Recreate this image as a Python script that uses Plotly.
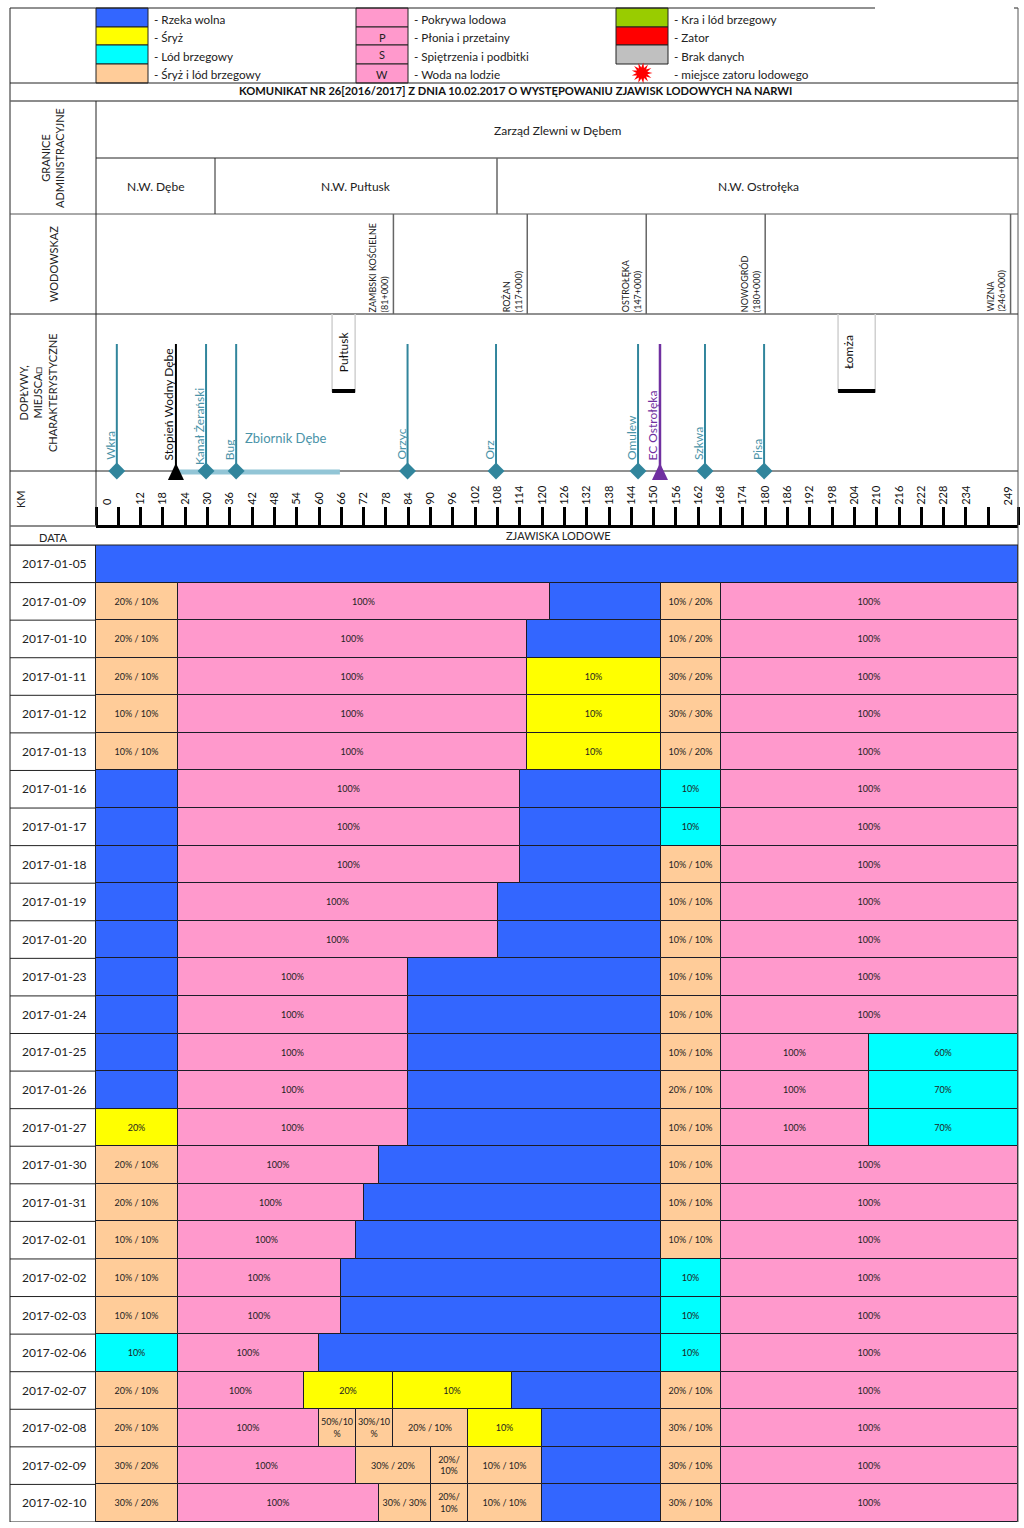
# Zjawiska lodowe na Narwi - komunikat nr 26
import math
import plotly.graph_objects as go

W_PX = 1024
H_PX = 1528
FONT = "Lato"

# rows of the ice table, km of the end of each cell, its kind and its label
dates = ["2017-01-05", "2017-01-09", "2017-01-10", "2017-01-11", "2017-01-12", "2017-01-13",
         "2017-01-16", "2017-01-17", "2017-01-18", "2017-01-19", "2017-01-20", "2017-01-23",
         "2017-01-24", "2017-01-25", "2017-01-26", "2017-01-27", "2017-01-30", "2017-01-31",
         "2017-02-01", "2017-02-02", "2017-02-03", "2017-02-06", "2017-02-07", "2017-02-08",
         "2017-02-09", "2017-02-10"]

seg_ends = [[248],
            [22, 122, 152, 168, 248],
            [22, 116, 152, 168, 248],
            [22, 116, 152, 168, 248],
            [22, 116, 152, 168, 248],
            [22, 116, 152, 168, 248],
            [22, 114, 152, 168, 248],
            [22, 114, 152, 168, 248],
            [22, 114, 152, 168, 248],
            [22, 108, 152, 168, 248],
            [22, 108, 152, 168, 248],
            [22, 84, 152, 168, 248],
            [22, 84, 152, 168, 248],
            [22, 84, 152, 168, 208, 248],
            [22, 84, 152, 168, 208, 248],
            [22, 84, 152, 168, 208, 248],
            [22, 76, 152, 168, 248],
            [22, 72, 152, 168, 248],
            [22, 70, 152, 168, 248],
            [22, 66, 152, 168, 248],
            [22, 66, 152, 168, 248],
            [22, 60, 152, 168, 248],
            [22, 56, 80, 112, 152, 168, 248],
            [22, 60, 70, 80, 100, 120, 152, 168, 248],
            [22, 70, 90, 100, 120, 152, 168, 248],
            [22, 76, 90, 100, 120, 152, 168, 248]]

seg_kinds = ["W", "MPWMP", "MPWMP", "MPSMP", "MPSMP", "MPSMP", "WPWLP", "WPWLP", "WPWMP",
             "WPWMP", "WPWMP", "WPWMP", "WPWMP", "WPWMPL", "WPWMPL", "SPWMPL", "MPWMP",
             "MPWMP", "MPWMP", "MPWLP", "MPWLP", "LPWLP", "MPSSWMP", "MPMMMSWMP",
             "MPMMMWMP", "MPMMMWMP"]

seg_texts = [[""],
             ["20% / 10%", "100%", "", "10% / 20%", "100%"],
             ["20% / 10%", "100%", "", "10% / 20%", "100%"],
             ["20% / 10%", "100%", "10%", "30% / 20%", "100%"],
             ["10% / 10%", "100%", "10%", "30% / 30%", "100%"],
             ["10% / 10%", "100%", "10%", "10% / 20%", "100%"],
             ["", "100%", "", "10%", "100%"],
             ["", "100%", "", "10%", "100%"],
             ["", "100%", "", "10% / 10%", "100%"],
             ["", "100%", "", "10% / 10%", "100%"],
             ["", "100%", "", "10% / 10%", "100%"],
             ["", "100%", "", "10% / 10%", "100%"],
             ["", "100%", "", "10% / 10%", "100%"],
             ["", "100%", "", "10% / 10%", "100%", "60%"],
             ["", "100%", "", "20% / 10%", "100%", "70%"],
             ["20%", "100%", "", "10% / 10%", "100%", "70%"],
             ["20% / 10%", "100%", "", "10% / 10%", "100%"],
             ["20% / 10%", "100%", "", "10% / 10%", "100%"],
             ["10% / 10%", "100%", "", "10% / 10%", "100%"],
             ["10% / 10%", "100%", "", "10%", "100%"],
             ["10% / 10%", "100%", "", "10%", "100%"],
             ["10%", "100%", "", "10%", "100%"],
             ["20% / 10%", "100%", "20%", "10%", "", "20% / 10%", "100%"],
             ["20% / 10%", "100%", "50%/10<br>%", "30%/10<br>%", "20% / 10%", "10%", "", "30% / 10%", "100%"],
             ["30% / 20%", "100%", "30% / 20%", "20%/<br>10%", "10% / 10%", "", "30% / 10%", "100%"],
             ["30% / 20%", "100%", "30% / 30%", "20%/<br>10%", "10% / 10%", "", "30% / 10%", "100%"]]

kind_colors = {"W": "#3366ff", "S": "#ffff00", "L": "#00ffff", "M": "#ffcc99", "P": "#ff99cc"}

# legend columns
legend_col1 = ["- Rzeka wolna", "- Śryż", "- Lód brzegowy", "- Śryż i lód brzegowy"]
legend_col1_colors = ["#3366ff", "#ffff00", "#00ffff", "#ffcc99"]
legend_col2 = ["- Pokrywa lodowa", "- Płonia i przetainy", "- Spiętrzenia i podbitki", "- Woda na lodzie"]
legend_col2_marks = ["", "P", "S", "W"]
legend_col3 = ["- Kra i lód brzegowy", "- Zator", "- Brak danych", "- miejsce zatoru lodowego"]
legend_col3_colors = ["#99cc00", "#ff0000", "#c0c0c0"]

# km scale
km_ticks = list(range(0, 241, 6)) + [248]
km_labels = ["", ""] + [str(k) for k in range(12, 235, 6)] + ["", ""]
km_extra_pos = [2.8, 245.3]
km_extra_labels = ["0", "249"]

# tributaries and other places along the river
river_names = ["Wkra", "Kanał Żerański", "Bug", "Orzyc", "Orz", "Omulew", "Szkwa", "Pisa"]
river_km = [5.6, 29.6, 37.7, 83.8, 107.6, 145.8, 163.8, 179.7]
dam_name = "Stopień Wodny Dębe"
dam_km = 21.5
plant_name = "EC Ostrołęka"
plant_km = 151.7
reservoir_km = [21.5, 65.6]
town_names = ["Pułtusk", "Łomża"]
town_start = [63.5, 199.6]
town_end = [69.7, 209.6]
town_text_km = [66.5, 202.3]

# water gauges
gauge_names = ["ZAMBSKI KOŚCIELNE<br>(81+000)", "ROŻAN<br>(117+000)", "OSTROŁĘKA<br>(147+000)",
               "NOWOGRÓD<br>(180+000)", "WIZNA<br>(246+000)"]
gauge_km = [80, 116, 148, 180, 246]


def xp(px):
    return px / W_PX


def yp(px):
    return 1 - px / H_PX


fig = go.Figure()

# ice table, one trace per kind of cell
for kind, color in kind_colors.items():
    ys, xs, bases, texts = [], [], [], []
    for d, ends, kinds, labels in zip(dates, seg_ends, seg_kinds, seg_texts):
        start = 0
        for end, k, t in zip(ends, kinds, labels):
            if k == kind:
                ys.append(d)
                xs.append(end - start)
                bases.append(start)
                texts.append(t)
            start = end
    fig.add_trace(go.Bar(y=ys, x=xs, base=bases, orientation="h", text=texts, textposition="inside",
                         insidetextanchor="middle", textangle=0, constraintext="none",
                         textfont=dict(family=FONT, size=9, color="#222222"),
                         marker=dict(color=color, line=dict(color="#1c1c28", width=1)),
                         showlegend=False, hoverinfo="skip"))

# river features, on their own band above the table
TOP = 182
LEVEL = 55
for name, km in zip(river_names, river_km):
    fig.add_trace(go.Scatter(x=[km, km], y=[LEVEL, TOP], mode="lines", xaxis="x2", yaxis="y2",
                             line=dict(color="#31859c", width=2), showlegend=False, hoverinfo="skip"))
fig.add_trace(go.Scatter(x=[dam_km, dam_km], y=[LEVEL, TOP], mode="lines", xaxis="x2", yaxis="y2",
                         line=dict(color="#000000", width=2), showlegend=False, hoverinfo="skip"))
fig.add_trace(go.Scatter(x=[plant_km, plant_km], y=[LEVEL, TOP], mode="lines", xaxis="x2", yaxis="y2",
                         line=dict(color="#7030a0", width=2.5), showlegend=False, hoverinfo="skip"))
fig.add_trace(go.Scatter(x=reservoir_km, y=[LEVEL - 1, LEVEL - 1], mode="lines", xaxis="x2", yaxis="y2",
                         line=dict(color="#92c5d6", width=5), showlegend=False, hoverinfo="skip"))
fig.add_trace(go.Scatter(x=river_km, y=[LEVEL] * len(river_km), mode="markers", xaxis="x2", yaxis="y2",
                         marker=dict(symbol="diamond", size=13, color="#31859c"),
                         showlegend=False, hoverinfo="skip"))

shapes = []
annots = []


def line(x0, y0, x1, y1, color="#222222", width=1, layer="above"):
    shapes.append(dict(type="line", xref="paper", yref="paper", x0=xp(x0), x1=xp(x1), y0=yp(y0), y1=yp(y1),
                       line=dict(color=color, width=width), layer=layer))


def rect(x0, y0, x1, y1, fill, border="#222222"):
    shapes.append(dict(type="rect", xref="paper", yref="paper", x0=xp(x0), x1=xp(x1), y0=yp(y0), y1=yp(y1),
                       fillcolor=fill, line=dict(color=border, width=1)))


def label(px, py, text, size=12, color="#222222", angle=0, xa="center", ya="middle", bold=False, align="center"):
    if bold:
        text = "<b>" + text + "</b>"
    annots.append(dict(xref="paper", yref="paper", x=xp(px), y=yp(py), text=text, showarrow=False,
                       font=dict(family=FONT, size=size, color=color), textangle=angle,
                       xanchor=xa, yanchor=ya, align=align))


# legend swatches and texts
legend_y = [8, 27, 45, 64, 83]
for i in range(4):
    rect(96, legend_y[i], 148, legend_y[i + 1], legend_col1_colors[i])
    rect(356, legend_y[i], 408, legend_y[i + 1], "#ff99cc")
    if legend_col2_marks[i]:
        label(382, legend_y[i] + 10, legend_col2_marks[i], size=11)
    if i < 3:
        rect(616, legend_y[i], 668, legend_y[i + 1], legend_col3_colors[i])
    label(152, legend_y[i] + 10.5, legend_col1[i], size=11.7, xa="left")
    label(412, legend_y[i] + 10.5, legend_col2[i], size=11.7, xa="left")
    label(671.5, legend_y[i] + 10.5, legend_col3[i], size=11.7, xa="left")

# red burst of the legend
burst = []
for i in range(26):
    r = 10.5 if i % 2 == 0 else 5.5
    a = math.pi * i / 13
    burst.append(("M" if i == 0 else "L") + " %.1f %.1f" % (r * math.cos(a), r * math.sin(a)))
shapes.append(dict(type="path", xref="paper", yref="paper", xsizemode="pixel", ysizemode="pixel",
                   xanchor=xp(642), yanchor=yp(73), path=" ".join(burst) + " Z",
                   fillcolor="#ff0000", line=dict(width=0)))

# table frame
line(10, 8, 875, 8)
line(1014, 8, 1018, 8)
line(10, 8, 10, 1522)
line(1018, 8, 1018, 1522, color="#555555")
line(10, 83, 1018, 83)
line(10, 101, 1018, 101, color="#666666", width=1.5)
line(96, 158, 1018, 158)
line(10, 214, 1018, 214, color="#555555")
line(10, 314, 1018, 314)
line(10, 471, 1018, 471, layer="below")
line(10, 526, 96, 526, color="#666666", width=1.5)
line(10, 545, 1018, 545)
line(96, 101, 96, 526)
line(215, 158, 215, 214)
line(497, 158, 497, 214, color="#666666", width=1.5)

label(515, 91, "KOMUNIKAT NR 26[2016/2017] Z DNIA 10.02.2017 O WYSTĘPOWANIU ZJAWISK LODOWYCH NA NARWI",
      size=11.2, color="#111111", bold=True)
label(557, 130, "Zarząd Zlewni w Dębem", size=12)
label(155, 186, "N.W. Dębe", size=12)
label(356, 186, "N.W. Pułtusk", size=12)
label(758, 186, "N.W. Ostrołęka", size=12)
label(53, 158, "GRANICE<br>ADMINISTRACYJNE", size=11, angle=-90)
label(53, 264, "WODOWSKAZ", size=11, angle=-90)
label(38, 393, "DOPŁYWY,<br>MIEJSCA□<br>CHARAKTERYSTYCZNE", size=11, angle=-90)
label(21, 499, "KM", size=11, angle=-90)
label(53, 537, "DATA", size=11)
label(558, 535, "ZJAWISKA LODOWE", size=11)

# water gauges
for name, km in zip(gauge_names, gauge_km):
    shapes.append(dict(type="line", xref="x", yref="paper", x0=km, x1=km, y0=yp(214), y1=yp(314),
                       line=dict(color="#666666", width=1.5)))
    annots.append(dict(xref="x", yref="paper", x=km, y=yp(314), text=name, showarrow=False, textangle=-90,
                       xanchor="right", yanchor="bottom", align="left", xshift=-1,
                       font=dict(family=FONT, size=9, color="#222222")))

# towns
for name, k0, k1, kt in zip(town_names, town_start, town_end, town_text_km):
    for k in (k0, k1):
        shapes.append(dict(type="line", xref="x", yref="paper", x0=k, x1=k, y0=yp(314), y1=yp(392),
                           line=dict(color="#d0d0d0", width=1.5)))
    shapes.append(dict(type="line", xref="x", yref="paper", x0=k0, x1=k1, y0=yp(391), y1=yp(391),
                       line=dict(color="#000000", width=4)))
    annots.append(dict(xref="x", yref="paper", x=kt, y=yp(352), text=name, showarrow=False, textangle=-90,
                       xanchor="center", yanchor="middle",
                       font=dict(family=FONT, size=12, color="#111111")))

# dam and power plant triangles
for km, color in ((dam_km, "#000000"), (plant_km, "#7030a0")):
    shapes.append(dict(type="path", xref="x", yref="paper", xsizemode="pixel", ysizemode="pixel",
                       xanchor=km, yanchor=yp(472), path="M -8 -8 L 8 -8 L 0 9 Z",
                       fillcolor=color, line=dict(width=0)))

# names written along the tributaries
for name, km in zip(river_names, river_km):
    shift = 5 if name == "Kanał Żerański" else 0
    annots.append(dict(xref="x", yref="paper", x=km, y=yp(462 + shift), text=name, showarrow=False, textangle=-90,
                       xanchor="right", yanchor="bottom", xshift=3,
                       font=dict(family=FONT, size=12, color="#4a93a8")))
annots.append(dict(xref="x", yref="paper", x=dam_km, y=yp(462), text=dam_name, showarrow=False, textangle=-90,
                   xanchor="right", yanchor="bottom", xshift=3, font=dict(family=FONT, size=12, color="#111111")))
annots.append(dict(xref="x", yref="paper", x=plant_km, y=yp(462), text=plant_name, showarrow=False, textangle=-90,
                   xanchor="right", yanchor="bottom", xshift=3, font=dict(family=FONT, size=12, color="#7030a0")))
annots.append(dict(xref="x", yref="paper", x=51.1, y=yp(438), text="Zbiornik Dębe", showarrow=False,
                   xanchor="center", yanchor="middle", font=dict(family=FONT, size=13, color="#4a93a8")))

# the two km labels that do not sit on a tick
for pos, txt in zip(km_extra_pos, km_extra_labels):
    annots.append(dict(xref="x", yref="paper", x=pos, y=yp(507), text=txt, showarrow=False, textangle=-90,
                       xanchor="center", yanchor="bottom", font=dict(family=FONT, size=11, color="#111111")))

# lines of the date column
for i in range(len(dates) + 1):
    shapes.append(dict(type="line", xref="paper", yref="y", x0=xp(10), x1=xp(96), y0=i - 0.5, y1=i - 0.5,
                       line=dict(color="#222222", width=1)))

fig.update_layout(
    width=W_PX,
    height=H_PX,
    margin=dict(l=0, r=0, t=0, b=0),
    paper_bgcolor="white",
    plot_bgcolor="white",
    barmode="overlay",
    bargap=0,
    showlegend=False,
    font=dict(family=FONT),
    xaxis=dict(domain=[xp(96), xp(1018)], range=[0, 248], visible=False),
    yaxis=dict(domain=[yp(1522), yp(545)], type="category", categoryorder="array", categoryarray=dates,
               range=[len(dates) - 0.5, -0.5], showgrid=False, zeroline=False, ticks="", showline=True,
               linecolor="#222222", ticklabelstandoff=6, tickfont=dict(family=FONT, size=12, color="#222222")),
    xaxis2=dict(domain=[xp(96), xp(1018)], range=[0, 248], anchor="free", position=yp(526), side="top",
                tickmode="array", tickvals=km_ticks, ticktext=km_labels, ticks="outside", ticklen=18, tickwidth=3,
                tickcolor="#000000", showline=True, linecolor="#000000", linewidth=3, showgrid=False,
                zeroline=False, tickangle=-90, tickfont=dict(family=FONT, size=11, color="#111111")),
    yaxis2=dict(domain=[yp(526), yp(315)], range=[0, 211], anchor="x2", visible=False),
    shapes=shapes,
    annotations=annots,
)

fig.write_html("out.html", config=dict(displayModeBar=False), post_script="document.body.style.margin='0';")
